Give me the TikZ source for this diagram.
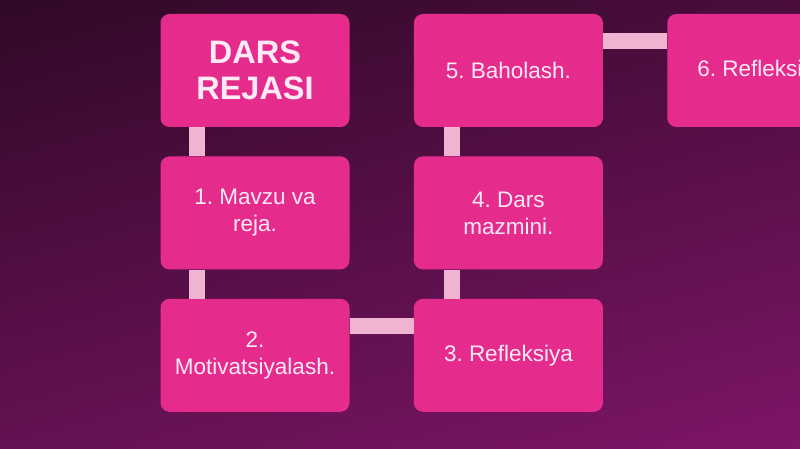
\documentclass[tikz,border=0pt]{standalone}
\usepackage{fontspec}
\setmainfont{Liberation Sans}
\usepackage{xcolor}
\usetikzlibrary{positioning}
\definecolor{bgtop}{RGB}{44,8,34}
\definecolor{bgbottom}{RGB}{130,22,108}
\definecolor{boxpink}{RGB}{229,44,141}
\definecolor{linkpink}{RGB}{240,180,211}
\definecolor{textpink}{RGB}{253,234,244}
\frenchspacing

\begin{document}
\begin{tikzpicture}[
      x=1pt, y=1pt,
      node distance=29pt and 64pt,
      stage/.style = {shape=rectangle, rounded corners=9pt, fill=boxpink, text=textpink, minimum width=189pt, minimum height=113pt, align=center, inner sep=2pt, font=\fontsize{22.5}{27}\selectfont},
      heading/.style = {stage, font=\fontsize{32.5}{36}\selectfont\bfseries},
      link/.style = {draw=linkpink, line width=16pt}
    ]
      \clip (0,0) rectangle (800,-449);
      \shade[top color=bgtop, bottom color=bgbottom, shading angle=15] (-100,100) rectangle (900,-549);

      \node[heading] (plan) at (255,-70.5) {DARS\\REJASI};
      \node[stage, below=of plan] (topic) {1. Mavzu va\\reja.};
      \node[stage, below=of topic] (motiv) {2.\\Motivatsiyalash.};
      \node[stage, right=of motiv] (refl) {3. Refleksiya};
      \node[stage, above=of refl] (content) {4. Dars\\mazmini.};
      \node[stage, above=of content] (grade) {5. Baholash.};
      \node[stage, right=of grade] (final) {6. Refleksiya};

      \draw[link] ([xshift=37pt]plan.south west) -- ([xshift=37pt]topic.north west);
      \draw[link] ([xshift=37pt]topic.south west) -- ([xshift=37pt]motiv.north west);
      \draw[link] ([yshift=-27pt]motiv.north east) -- ([yshift=-27pt]refl.north west);
      \draw[link] ([xshift=38pt]refl.north west) -- ([xshift=38pt]content.south west);
      \draw[link] ([xshift=38pt]content.north west) -- ([xshift=38pt]grade.south west);
      \draw[link] ([yshift=-27pt]grade.north east) -- ([yshift=-27pt]final.north west);
    \end{tikzpicture}
\end{document}
